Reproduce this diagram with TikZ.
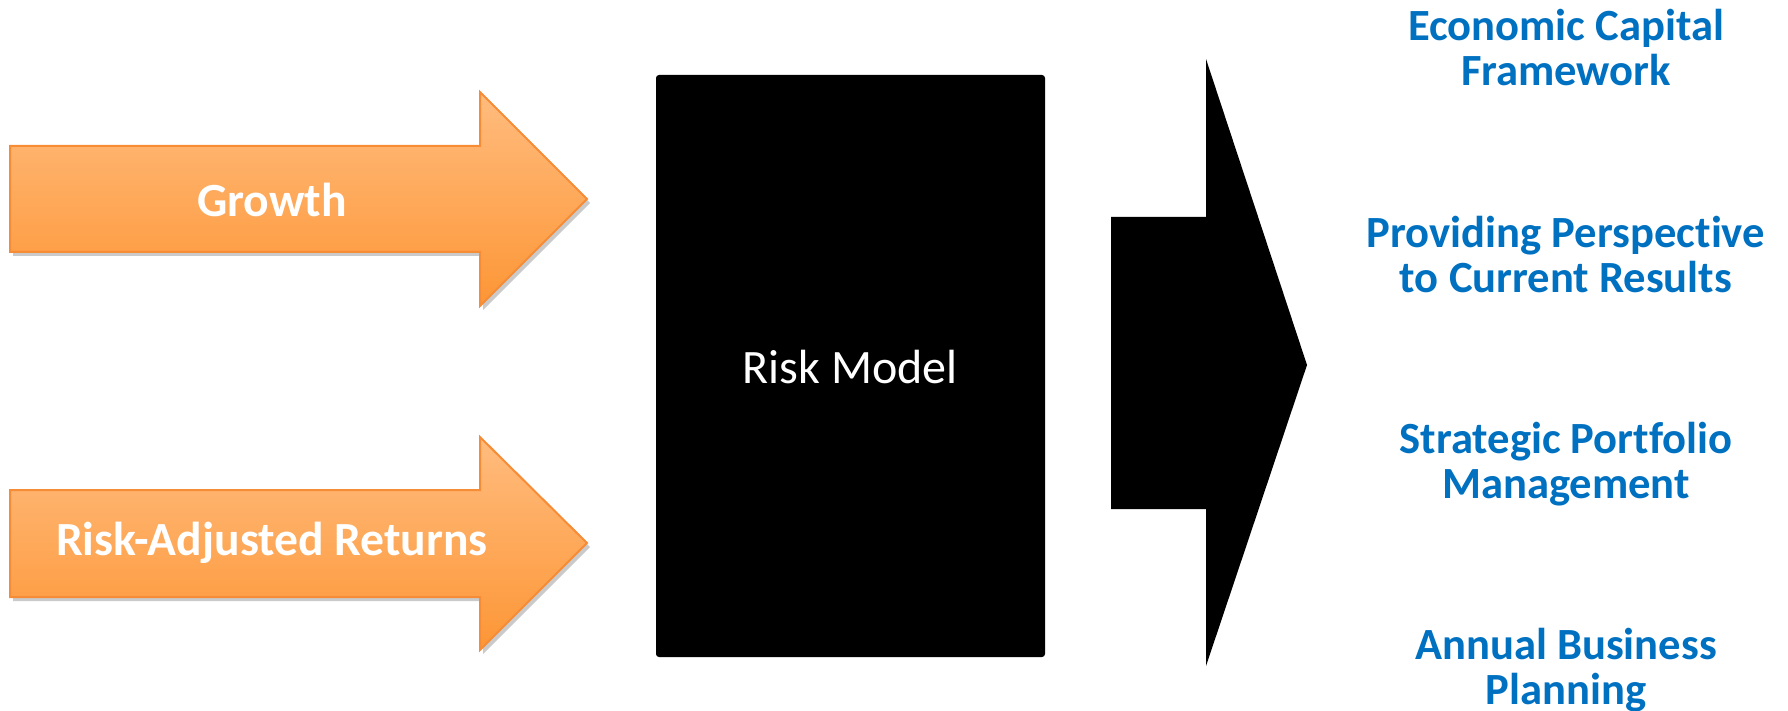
\documentclass[tikz,border=0pt]{standalone}
\usepackage{fontspec}
\setmainfont{Carlito}[Ligatures=NoCommon]
\usetikzlibrary{shadows}
\definecolor{orangetop}{HTML}{FFBC7E}
\definecolor{orangebot}{HTML}{FD9636}
\definecolor{orangeline}{HTML}{F68C36}
\definecolor{bluetext}{HTML}{0070C0}
\tikzset{
  inarrow/.style={top color=orangetop, bottom color=orangebot, draw=orangeline, line width=1pt,
    drop shadow={shadow xshift=1.5pt, shadow yshift=-2pt, opacity=0.35, fill=black!60}},
  intext/.style={font=\fontsize{23.8}{26}\selectfont\bfseries, text=white},
  outtext/.style={font=\fontsize{22.3}{22.5}\selectfont\bfseries, text=bluetext, align=center},
}
\begin{document}
\begin{tikzpicture}[x=0.5pt,y=-0.5pt]
\useasboundingbox (0,0) rectangle (1788,711);
% input arrows
\path[inarrow] (10,146) -- (480,146) -- (480,92) -- (587,199) -- (480,306) -- (480,252) -- (10,252) -- cycle;
\path[inarrow] (10,490) -- (480,490) -- (480,437) -- (587,543) -- (480,650) -- (480,597) -- (10,597) -- cycle;
\node[intext] (growth) at (272,200) {Growth};
\node[intext] (rar) at (272,543) {Risk-Adjusted Returns};
% risk model box
\fill[black, rounded corners=1.5pt] (656,75) rectangle (1045,657);
\node[font=\fontsize{24}{28}\selectfont, text=white] (model) at (850,367) {Risk Model};
% output arrow
\fill[black] (1111,217) -- (1206,217) -- (1206,59) -- (1307,365) -- (1206,666) -- (1206,509) -- (1111,509) -- cycle;
% outputs
\node[outtext] (o1) at (1566,48) {Economic Capital\\Framework};
\node[outtext] (o2) at (1566,255) {Providing Perspective\\to Current Results};
\node[outtext] (o3) at (1566,464) {Strategic Portfolio\\Management};
\node[outtext] (o4) at (1566,670) {Annual Business\\Planning};
\end{tikzpicture}
\end{document}
